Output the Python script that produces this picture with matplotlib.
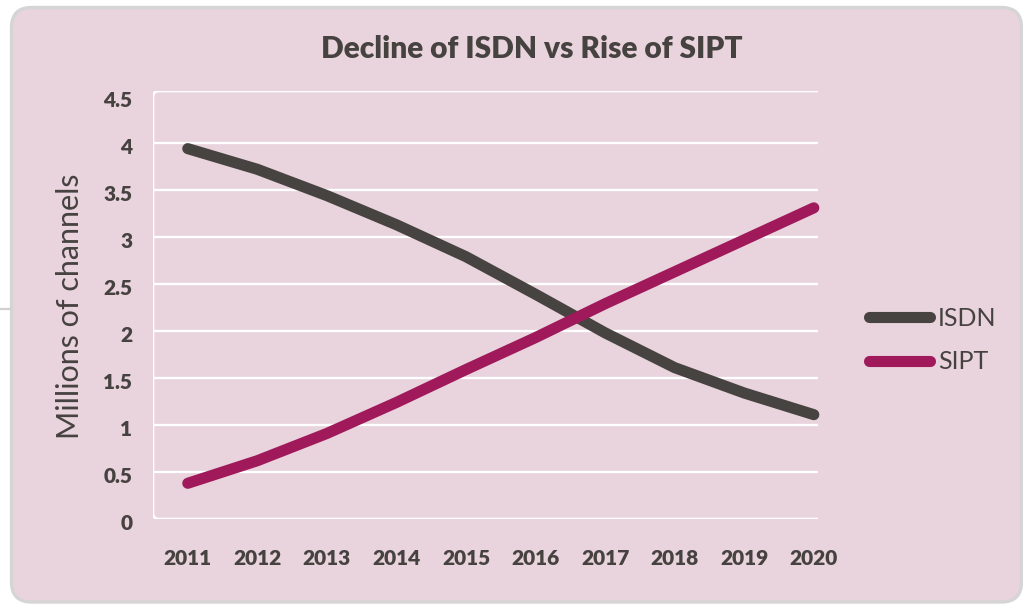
import matplotlib
matplotlib.use("Agg")
import matplotlib.pyplot as plt
import matplotlib.transforms as mtransforms
from matplotlib.patches import FancyBboxPatch, PathPatch
from matplotlib.path import Path

years = [2011, 2012, 2013, 2014, 2015, 2016, 2017, 2018, 2019, 2020]
isdn = [3.94, 3.72, 3.44, 3.13, 2.79, 2.39, 1.98, 1.61, 1.34, 1.11]
sipt = [0.38, 0.62, 0.91, 1.24, 1.59, 1.93, 2.29, 2.63, 2.97, 3.31]
y_ticks = [0, 0.5, 1, 1.5, 2, 2.5, 3, 3.5, 4, 4.5]
y_tick_labels = ["0", "0.5", "1", "1.5", "2", "2.5", "3", "3.5", "4", "4.5"]

title = "Decline of ISDN vs Rise of SIPT"
y_label = "Millions of channels"

pink = "#e9d3dd"
text_col = "#464240"
isdn_col = "#474340"
sipt_col = "#a0195a"
font = ["Lato", "DejaVu Sans"]

W, H, DPI = 1023, 606, 100
fig = plt.figure(figsize=(W / DPI, H / DPI), dpi=DPI)
fig.patch.set_facecolor("white")

# rounded pink panel with grey border (inch units so the corners stay round)
panel = FancyBboxPatch(
    (11.5 / DPI + 0.2, (H - 602) / DPI + 0.2),
    (1021.5 - 11.5) / DPI - 0.4,
    (602 - 7.5) / DPI - 0.4,
    boxstyle="round,pad=0.2",
    transform=fig.dpi_scale_trans,
    facecolor=pink,
    edgecolor="#d5d5d5",
    linewidth=2.4,
    zorder=0,
)
fig.add_artist(panel)
fig.add_artist(plt.Line2D([0, 10 / W], [1 - 309 / H, 1 - 309 / H],
                          transform=fig.transFigure, color="#d0d0d0", lw=1.6))

left, right, top, bottom = 153, 818, 91, 519
ax = fig.add_axes([left / W, 1 - bottom / H, (right - left) / W, (bottom - top) / H])
ax.set_facecolor("none")
for s in ax.spines.values():
    s.set_visible(False)

ax.set_xlim(2010.5, 2020.06)
ax.set_ylim(0, 4.553)

ax.set_yticks(y_ticks, y_tick_labels)
ax.set_xticks(years, [str(y) for y in years])
ax.tick_params(axis="both", length=0, colors=text_col, labelsize=15)
ax.tick_params(axis="y", pad=15)
ax.tick_params(axis="x", pad=21.5)
for lab in ax.get_yticklabels() + ax.get_xticklabels():
    lab.set_fontfamily(font)
    lab.set_fontweight(800)
offset = mtransforms.ScaledTranslation(0, -3 / DPI, fig.dpi_scale_trans)
for lab in ax.get_yticklabels():
    lab.set_transform(lab.get_transform() + offset)

ax.grid(axis="y", color="white", linewidth=1.7)
ax.grid(axis="x", visible=False)
gl = ax.get_ygridlines()
gl[0].set_visible(False)
gl[-1].set_visible(False)

# white frame: top, left and bottom edges with rounded corners
rx, ry = 6 / (right - left), 6 / (bottom - top)
verts = [(1, 1), (rx, 1), (0, 1), (0, 1 - ry), (0, ry), (0, 0), (rx, 0), (1, 0)]
codes = [Path.MOVETO, Path.LINETO, Path.CURVE3, Path.CURVE3,
         Path.LINETO, Path.CURVE3, Path.CURVE3, Path.LINETO]
ax.add_patch(PathPatch(Path(verts, codes), transform=ax.transAxes,
                       facecolor="none", edgecolor="white", lw=1.9, zorder=1))

ax.plot(years, isdn, color=isdn_col, lw=8, solid_capstyle="round",
        solid_joinstyle="round", clip_on=False, zorder=3, label="ISDN")
ax.plot(years, sipt, color=sipt_col, lw=8, solid_capstyle="round",
        solid_joinstyle="round", clip_on=False, zorder=3, label="SIPT")

leg = fig.legend(loc="center left", bbox_to_anchor=(869 / W, 1 - 340 / H),
                 frameon=False, prop={"family": font, "size": 18},
                 handlelength=2.45, handletextpad=0.3, labelspacing=0.82,
                 borderpad=0, borderaxespad=0)
for t in leg.get_texts():
    t.set_color(text_col)

fig.text(531.5 / W, 1 - 58.3 / H, title, ha="center", va="baseline",
         fontsize=21.5, fontweight=800, color=text_col, family=font)
fig.text(70 / W, 1 - 306 / H, y_label, rotation=90, ha="center", va="center",
         fontsize=22, color=text_col, family=font)

fig.savefig("out.png", dpi=DPI, facecolor=fig.get_facecolor())
